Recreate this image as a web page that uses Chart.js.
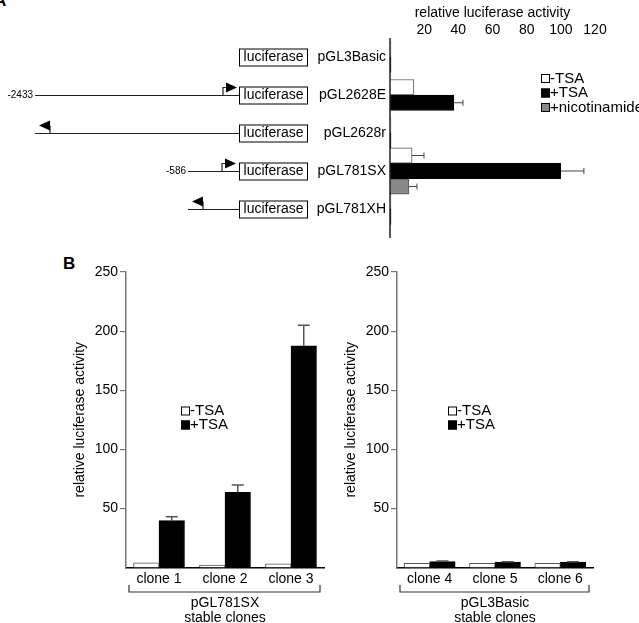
<!DOCTYPE html>
<html>
<head>
<meta charset="utf-8">
<script src="https://cdn.jsdelivr.net/npm/chart.js@4.4.0/dist/chart.umd.min.js"></script>
<style>
  html, body { margin: 0; padding: 0; background: #fff; overflow: hidden; }
  body { width: 639px; height: 623px; position: relative; font-family: "Liberation Sans", Arial, sans-serif; }
  canvas { position: absolute; }
  .panel { position: absolute; font-weight: bold; font-size: 17px; line-height: 1; }
</style>
</head>
<body>
<div class="panel" style="left:-6px; top:-8px;">A</div>
<div class="panel" style="left:63px; top:255px;">B</div>
<canvas id="topChart" width="639" height="245" style="left:0;top:0"></canvas>
<canvas id="leftChart" width="330" height="380" style="left:0;top:250px"></canvas>
<canvas id="rightChart" width="309" height="380" style="left:330px;top:250px"></canvas>
<script>
// Panel A - reporter constructs, transient transfection
const constructs = ['pGL3Basic', 'pGL2628E', 'pGL2628r', 'pGL781SX', 'pGL781XH'];
const aTicks = [20, 40, 60, 80, 100, 120];
const aMinusTSA = [0.6, 14, 0.6, 12.9, 0.6];
const aPlusTSA = [0.6, 37.4, 0.6, 100, 0.6];
const aNicotinamide = [null, null, null, 11.1, null];
const aMinusErr = [0, 0, 0, 7, 0];
const aPlusErr = [0, 5.3, 0, 13.5, 0];
const aNicErr = [0, 0, 0, 4.7, 0];

// Panel B - stable clones
const clonesSX = ['clone 1', 'clone 2', 'clone 3'];
const clonesBasic = ['clone 4', 'clone 5', 'clone 6'];
const bTicks = [50, 100, 150, 200, 250];
const sxMinusTSA = [4, 2, 3];
const sxPlusTSA = [39.6, 63.6, 187.6];
const sxPlusErr = [3.4, 6.2, 17.4];
const basicMinusTSA = [3.5, 3.5, 3.5];
const basicPlusTSA = [5, 4.5, 4.5];
const basicPlusErr = [0.5, 0.3, 0.3];
const sxTitle = ['pGL781SX', 'stable clones'];
const basicTitle = ['pGL3Basic', 'stable clones'];

// promoter drawing for each construct row (null = empty vector)
const diagram = [
  null,
  { from: 35, promoter: 223, dir: 1, label: '-2433' },
  { from: 35, promoter: 50, dir: -1 },
  { from: 188, promoter: 222, dir: 1, label: '-586' },
  { from: 188, promoter: 203, dir: -1 }
];

Chart.defaults.font.family = '"Liberation Sans", Arial, sans-serif';
Chart.defaults.color = '#000';

// error bars, one side only, taken from dataset.errors
const errorBars = {
  id: 'errorBars',
  afterDatasetsDraw(chart, args, opts) {
    const ctx = chart.ctx;
    const horizontal = chart.options.indexAxis === 'y';
    const vScale = horizontal ? chart.scales.x : chart.scales.y;
    ctx.save();
    ctx.strokeStyle = opts.color;
    ctx.lineWidth = opts.width;
    chart.data.datasets.forEach((ds, di) => {
      if (!ds.errors) return;
      chart.getDatasetMeta(di).data.forEach((bar, i) => {
        const v = ds.data[i], e = ds.errors[i];
        if (v == null || !e) return;
        const end = vScale.getPixelForValue(v + e);
        ctx.beginPath();
        if (horizontal) {
          ctx.moveTo(bar.x, bar.y); ctx.lineTo(end, bar.y);
          ctx.moveTo(end, bar.y - opts.cap); ctx.lineTo(end, bar.y + opts.cap);
        } else {
          ctx.moveTo(bar.x, bar.y); ctx.lineTo(bar.x, end);
          ctx.moveTo(bar.x - opts.cap, end); ctx.lineTo(bar.x + opts.cap, end);
        }
        ctx.stroke();
      });
    });
    ctx.restore();
  }
};

// small square legend placed inside the plot
const boxLegend = {
  id: 'boxLegend',
  afterDraw(chart, args, opts) {
    const ctx = chart.ctx;
    ctx.save();
    ctx.font = opts.font;
    ctx.textBaseline = 'middle';
    chart.data.datasets.forEach((ds, i) => {
      const y = opts.y + i * opts.gap;
      ctx.fillStyle = ds.backgroundColor;
      ctx.fillRect(opts.x, y - opts.size / 2, opts.size, opts.size);
      ctx.strokeStyle = '#000';
      ctx.lineWidth = 1;
      ctx.strokeRect(opts.x + 0.5, y - opts.size / 2 + 0.5, opts.size - 1, opts.size - 1);
      ctx.fillStyle = '#000';
      ctx.fillText(ds.label, opts.x + opts.size, y);
    });
    ctx.restore();
  }
};

// bracket under the clone labels
const bracket = {
  id: 'bracket',
  afterDraw(chart, args, opts) {
    if (!opts.show) return;
    const ctx = chart.ctx;
    const { left, right, bottom } = chart.chartArea;
    const y = bottom + 24.5;
    ctx.save();
    ctx.strokeStyle = '#333';
    ctx.lineWidth = 1.2;
    ctx.beginPath();
    ctx.moveTo(left + 3, y - 7); ctx.lineTo(left + 3, y);
    ctx.lineTo(right - 4, y); ctx.lineTo(right - 4, y - 7);
    ctx.stroke();
    ctx.restore();
  }
};

// construct drawings left of the category labels + vertical axis
const constructDiagram = {
  id: 'constructDiagram',
  afterDraw(chart) {
    if (chart.canvas.id !== 'topChart') return;
    const ctx = chart.ctx;
    const yScale = chart.scales.y;
    const area = chart.chartArea;
    ctx.save();
    ctx.strokeStyle = '#222';
    ctx.lineWidth = 1.5;
    ctx.beginPath();
    ctx.moveTo(area.left, area.top);
    ctx.lineTo(area.left, area.bottom + 10);
    ctx.stroke();
    ctx.textBaseline = 'middle';
    constructs.forEach((name, i) => {
      const y = Math.round(yScale.getPixelForValue(i)) + 0.5;
      ctx.strokeStyle = '#000';
      ctx.lineWidth = 1;
      ctx.strokeRect(239.5, y - 8.5, 68, 17);
      ctx.fillStyle = '#000';
      ctx.font = '14px "Liberation Sans", Arial, sans-serif';
      ctx.textAlign = 'center';
      ctx.fillText('luciferase', 273.5, y);
      const d = diagram[i];
      if (!d) return;
      ctx.strokeStyle = '#222';
      ctx.lineWidth = 1.2;
      ctx.beginPath();
      ctx.moveTo(d.from, y); ctx.lineTo(239, y);
      ctx.moveTo(d.promoter, y); ctx.lineTo(d.promoter, y - 8);
      if (d.dir > 0) ctx.lineTo(d.promoter + 3, y - 8);
      ctx.stroke();
      const base = d.dir > 0 ? d.promoter + 3 : d.promoter;
      ctx.beginPath();
      ctx.moveTo(base, y - 13);
      ctx.lineTo(base, y - 3);
      ctx.lineTo(base + d.dir * 11, y - 8);
      ctx.closePath();
      ctx.fill();
      if (d.label) {
        ctx.font = '10px "Liberation Sans", Arial, sans-serif';
        ctx.textAlign = 'right';
        ctx.fillText(d.label, d.from - 2, y);
      }
    });
    ctx.restore();
  }
};

new Chart(document.getElementById('topChart'), {
  type: 'bar',
  data: {
    labels: constructs,
    datasets: [
      { label: '-TSA', data: aMinusTSA, errors: aMinusErr, backgroundColor: '#fff', borderColor: '#555', borderWidth: 1 },
      { label: '+TSA', data: aPlusTSA, errors: aPlusErr, backgroundColor: '#000', borderColor: '#000', borderWidth: 1 },
      { label: '+nicotinamide', data: aNicotinamide, errors: aNicErr, backgroundColor: '#888', borderColor: '#555', borderWidth: 1 }
    ]
  },
  options: {
    indexAxis: 'y',
    responsive: false,
    animation: false,
    datasets: { bar: { barThickness: 15.5, skipNull: true } },
    layout: { padding: { left: 0, right: 44, top: 0, bottom: 17 } },
    scales: {
      x: {
        position: 'top',
        min: 0,
        max: 120,
        afterBuildTicks: s => { s.ticks = aTicks.map(v => ({ value: v })); },
        grid: { display: false, drawTicks: false },
        border: { display: false },
        ticks: { padding: 1, font: { size: 14, lineHeight: 1 } },
        title: { display: true, text: 'relative luciferase activity', font: { size: 14, lineHeight: 1 }, padding: { top: 6, bottom: 2 } }
      },
      y: {
        afterFit: s => { s.width = 390; },
        grid: { display: false, drawTicks: false },
        border: { display: false },
        ticks: { padding: 4, font: { size: 14 } }
      }
    },
    plugins: {
      legend: { display: false },
      tooltip: { enabled: false },
      errorBars: { color: '#444', width: 1, cap: 3 },
      boxLegend: { x: 541, y: 78.5, gap: 14.5, size: 9, font: '15px "Liberation Sans", Arial, sans-serif' },
      bracket: { show: false }
    }
  },
  plugins: [errorBars, boxLegend, bracket, constructDiagram]
});

function cloneChart(id, labels, minus, plus, plusErr, title, padLeft, padRight, legendX) {
  return new Chart(document.getElementById(id), {
    type: 'bar',
    data: {
      labels: labels,
      datasets: [
        { label: '-TSA', data: minus, backgroundColor: '#fff', borderColor: '#555', borderWidth: 1 },
        { label: '+TSA', data: plus, errors: plusErr, backgroundColor: '#000', borderColor: '#000', borderWidth: 1 }
      ]
    },
    options: {
      responsive: false,
      animation: false,
      datasets: { bar: { barThickness: 25.5 } },
      layout: { padding: { left: padLeft, right: padRight, top: 22, bottom: 0 } },
      scales: {
        x: {
          afterFit: s => { s.height = 62.5; },
          grid: { display: false, drawTicks: false },
          border: { color: '#000', width: 1.5 },
          ticks: { padding: 4.5, font: { size: 14, lineHeight: 1 } },
          title: { display: true, text: title, font: { size: 14, lineHeight: 15 / 14 }, padding: { top: 0, bottom: 4.5 } }
        },
        y: {
          min: 0,
          max: 250,
          afterBuildTicks: s => { s.ticks = bTicks.map(v => ({ value: v })); },
          afterFit: s => { s.width = 126 - 72; },
          grid: { drawOnChartArea: false, drawTicks: true, tickLength: 6, color: '#777', lineWidth: 1.2 },
          border: { color: '#777', width: 1.5 },
          ticks: { padding: 2, font: { size: 14 } },
          title: { display: true, text: 'relative luciferase activity', font: { size: 14 }, padding: 0 }
        }
      },
      plugins: {
        legend: { display: false },
        tooltip: { enabled: false },
        errorBars: { color: '#555', width: 1.5, cap: 6 },
        boxLegend: { x: legendX, y: 161, gap: 14, size: 9, font: '15px "Liberation Sans", Arial, sans-serif' },
        bracket: { show: true }
      }
    },
    plugins: [errorBars, boxLegend, bracket]
  });
}

cloneChart('leftChart', clonesSX, sxMinusTSA, sxPlusTSA, sxPlusErr, sxTitle, 72, 6, 181);
cloneChart('rightChart', clonesBasic, basicMinusTSA, basicPlusTSA, basicPlusErr, basicTitle, 13, 46, 118);
</script>
</body>
</html>
